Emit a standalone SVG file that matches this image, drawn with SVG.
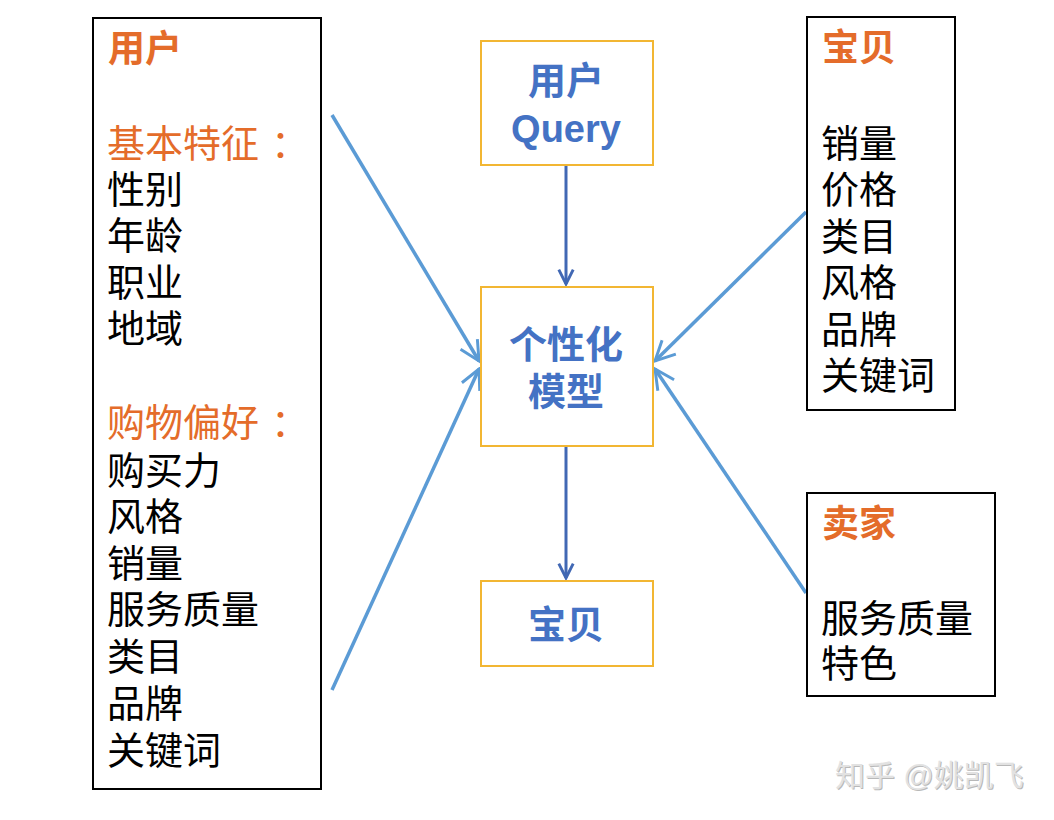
<svg xmlns="http://www.w3.org/2000/svg" width="1054" height="820" viewBox="0 0 1054 820">
<defs>
<style>
.box{fill:#fff;stroke:#000;stroke-width:2}
.cbox{fill:#fff;stroke:#F2B632;stroke-width:2}
.t{font-family:"Liberation Sans","Noto Sans CJK SC",sans-serif;font-size:38px;fill:#000}
.h{font-family:"Liberation Sans","Noto Sans CJK SC",sans-serif;font-size:37px;font-weight:bold;fill:#E46C2A}
.o{fill:#E46C2A}
.c{font-family:"Liberation Sans","Noto Sans CJK SC",sans-serif;font-size:38px;font-weight:bold;fill:#4472C4;text-anchor:middle}
.a1{stroke:#4168B4;stroke-width:3;fill:none}
.a2{stroke:#5B9BD5;stroke-width:3.5;fill:none}
.wm{font-family:"Liberation Sans","Noto Sans CJK SC",sans-serif;font-size:30px}
</style>
<marker id="m1" viewBox="0 0 10 10" refX="9" refY="5" markerWidth="6" markerHeight="6" orient="auto" markerUnits="strokeWidth">
<path d="M1,1 L9,5 L1,9" fill="none" stroke="#4168B4" stroke-width="1.6"/>
</marker>
<marker id="m2" viewBox="0 0 10 10" refX="9" refY="5" markerWidth="7" markerHeight="7" orient="auto" markerUnits="strokeWidth">
<path d="M1,1 L9,5 L1,9" fill="none" stroke="#5B9BD5" stroke-width="1.2"/>
</marker>
</defs>
<rect width="1054" height="820" fill="#fff"/>

<g id="connectors">
<line class="a1" x1="566" y1="165" x2="566" y2="284" marker-end="url(#m1)"/>
<line class="a1" x1="566" y1="446" x2="566" y2="578" marker-end="url(#m1)"/>
<line class="a2" x1="332" y1="115" x2="479" y2="361" marker-end="url(#m2)"/>
<line class="a2" x1="332" y1="690" x2="479" y2="369" marker-end="url(#m2)"/>
<line class="a2" x1="806" y1="212" x2="655" y2="361" marker-end="url(#m2)"/>
<line class="a2" x1="806" y1="593" x2="655" y2="369" marker-end="url(#m2)"/>
</g>

<g id="user">
<rect class="box" x="93" y="18" width="228" height="771"/>
<text class="h" x="108" y="62">用户</text>
<text class="t o" x="107" y="157">基本特征<tspan dx="12">：</tspan></text>
<text class="t" x="107" y="203">性别</text>
<text class="t" x="107" y="249">年龄</text>
<text class="t" x="107" y="296">职业</text>
<text class="t" x="107" y="342">地域</text>
<text class="t o" x="107" y="436">购物偏好<tspan dx="12">：</tspan></text>
<text class="t" x="107" y="484">购买力</text>
<text class="t" x="107" y="530">风格</text>
<text class="t" x="107" y="577">销量</text>
<text class="t" x="107" y="623">服务质量</text>
<text class="t" x="107" y="670">类目</text>
<text class="t" x="107" y="717">品牌</text>
<text class="t" x="107" y="764">关键词</text>
</g>

<g id="query">
<rect class="cbox" x="481" y="41" width="172" height="124"/>
<text class="c" x="566" y="94">用户</text>
<text class="c" x="566" y="142">Query</text>
</g>

<g id="model">
<rect class="cbox" x="481" y="287" width="172" height="159"/>
<text class="c" x="566" y="358">个性化</text>
<text class="c" x="566" y="405">模型</text>
</g>

<g id="item-out">
<rect class="cbox" x="481" y="581" width="172" height="85"/>
<text class="c" x="566" y="638">宝贝</text>
</g>

<g id="item">
<rect class="box" x="807" y="17" width="148" height="393"/>
<text class="h" x="822" y="61">宝贝</text>
<text class="t" x="821" y="157">销量</text>
<text class="t" x="821" y="203">价格</text>
<text class="t" x="821" y="250">类目</text>
<text class="t" x="821" y="296">风格</text>
<text class="t" x="821" y="343">品牌</text>
<text class="t" x="821" y="389">关键词</text>
</g>

<g id="seller">
<rect class="box" x="807" y="493" width="188" height="203"/>
<text class="h" x="822" y="537">卖家</text>
<text class="t" x="821" y="632">服务质量</text>
<text class="t" x="821" y="677">特色</text>
</g>

<g id="watermark">
<text class="wm" x="836" y="787" fill="#b8b8b8">知乎 @姚凯飞</text>
<text class="wm" x="835" y="786" fill="#e2e2e2">知乎 @姚凯飞</text>
</g>
</svg>
